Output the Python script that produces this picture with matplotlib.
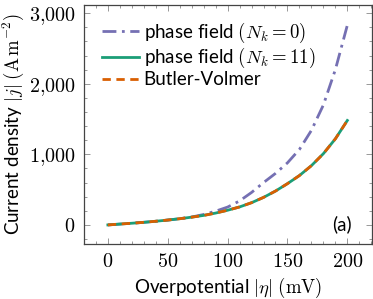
import matplotlib
matplotlib.use("Agg")
import matplotlib.pyplot as plt
from matplotlib.ticker import MultipleLocator, FuncFormatter

plt.rcParams['mathtext.fontset'] = 'cm'
plt.rcParams['font.family'] = ['Lato', 'DejaVu Sans']

eta = [0, 10, 20, 30, 40, 50, 60, 70, 80, 90, 100, 110, 120, 130, 140, 150, 160, 170, 180, 190, 200]
j_pf0 = [0, 12, 24, 37, 52, 69, 88, 112, 148, 195, 253, 340, 460, 600, 730, 880, 1070, 1340, 1700, 2200, 2830]
j_pf11 = [0, 12, 24, 37, 52, 69, 88, 110, 135, 168, 208, 255, 315, 390, 480, 585, 700, 840, 1010, 1220, 1480]
j_bv = [0, 12, 24, 37, 52, 69, 88, 110, 135, 168, 208, 255, 315, 390, 480, 585, 700, 840, 1010, 1220, 1480]

labels = [r'phase field $(N_k = 0)$', r'phase field $(N_k = 11)$', 'Butler-Volmer']
colors = ['#7570b3', '#1b9e77', '#d95f02']

fig = plt.figure(figsize=(3.73, 2.99), dpi=100)
ax = fig.add_axes([0.225, 0.184, 0.772, 0.799])

ax.plot(eta, j_pf0, color=colors[0], lw=2.0, ls=(0, (5, 2, 1, 2)), label=labels[0])
ax.plot(eta, j_pf11, color=colors[1], lw=2.0, ls='-', label=labels[1])
ax.plot(eta, j_bv, color=colors[2], lw=2.0, ls=(0, (3, 2)), label=labels[2])

ax.set_xlim(-20, 220.5)
ax.set_ylim(-270, 3115)
ax.xaxis.set_major_locator(MultipleLocator(50))
ax.xaxis.set_minor_locator(MultipleLocator(10))
ax.yaxis.set_major_locator(MultipleLocator(1000))
ax.yaxis.set_minor_locator(MultipleLocator(200))

def fmt(v, pos):
    s = f"{int(round(v)):,}".replace(",", "{,}")
    return f"${s}$"
ax.yaxis.set_major_formatter(FuncFormatter(fmt))
ax.xaxis.set_major_formatter(FuncFormatter(lambda v, p: f"${int(round(v))}$"))

ax.tick_params(which='both', direction='in', top=True, right=True, color='#888888', labelsize=14.5)
ax.tick_params(which='major', length=4, width=0.6, pad=6)
ax.tick_params(which='minor', length=2, width=0.6)
for s in ax.spines.values():
    s.set_color('#444444')
    s.set_linewidth(0.9)

ax.set_xlabel(r'Overpotential $|\eta|$ $(\mathrm{mV})$', fontsize=13.5, labelpad=4)
ax.set_ylabel(r'Current density $|j|\;(\mathrm{A\,m^{-2}})$', fontsize=13.5, labelpad=2)

ax.text(0.93, 0.045, '(a)', transform=ax.transAxes, ha='right', va='bottom', fontsize=13.5)

leg = ax.legend(loc='upper left', bbox_to_anchor=(0.035, 0.965), frameon=False, fontsize=13.5,
                handlelength=2.0, handletextpad=0.25, labelspacing=0.05, borderaxespad=0.0)

fig.savefig('out.png', dpi=100)
